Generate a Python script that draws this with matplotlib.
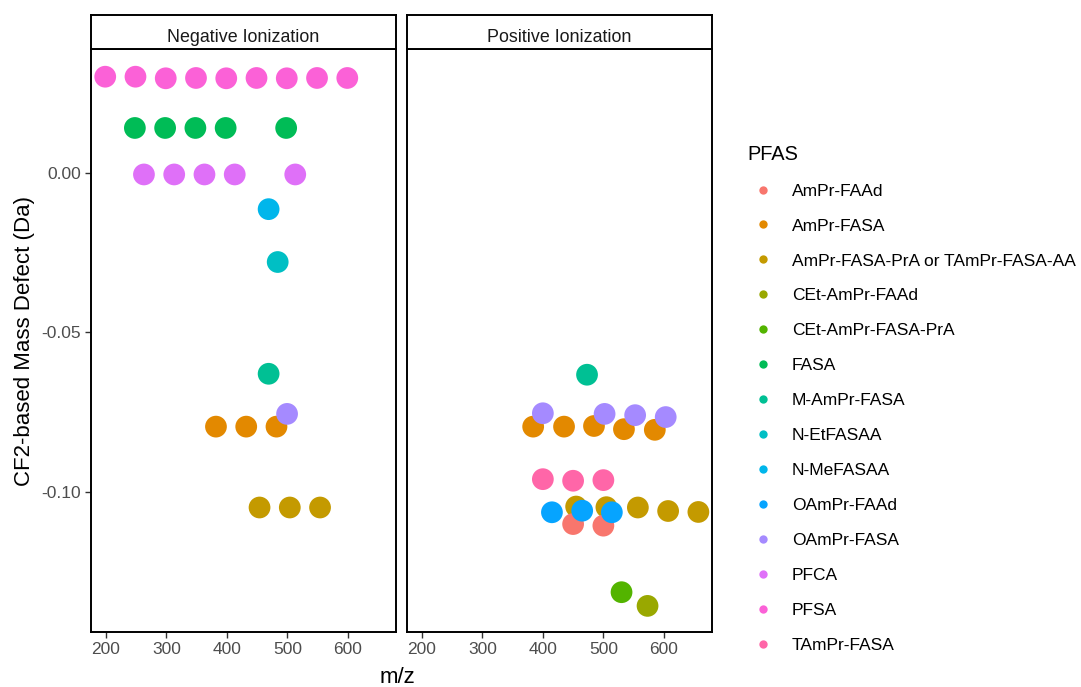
import matplotlib
matplotlib.use('Agg')
import matplotlib.pyplot as plt
from matplotlib.lines import Line2D

plt.rcParams['font.family'] = ['Liberation Sans', 'DejaVu Sans']

# PFAS classes in legend order, ggplot hue colours
classes = ['AmPr-FAAd', 'AmPr-FASA', 'AmPr-FASA-PrA or TAmPr-FASA-AA',
           'CEt-AmPr-FAAd', 'CEt-AmPr-FASA-PrA', 'FASA', 'M-AmPr-FASA',
           'N-EtFASAA', 'N-MeFASAA', 'OAmPr-FAAd', 'OAmPr-FASA', 'PFCA',
           'PFSA', 'TAmPr-FASA']
colors = ['#F8766D', '#E38900', '#C49A00', '#99A800', '#53B400', '#00BC56',
          '#00C094', '#00BFC4', '#00B6EB', '#06A4FF', '#A58AFF', '#DF70F8',
          '#FB61D7', '#FF66A8']

# negative ionization
neg_class = (['PFSA'] * 9 + ['FASA'] * 5 + ['PFCA'] * 5 + ['N-MeFASAA', 'N-EtFASAA', 'M-AmPr-FASA']
             + ['AmPr-FASA'] * 3 + ['OAmPr-FASA'] + ['AmPr-FASA-PrA or TAmPr-FASA-AA'] * 3)
neg_mz = [199, 249, 299, 349, 399, 449, 499, 549, 599,
          248, 298, 348, 398, 498,
          263, 313, 363, 413, 513,
          469, 484, 469,
          382, 432, 482,
          499.5,
          454, 504, 554]
neg_md = [0.0303, 0.0303, 0.0298, 0.0299, 0.0298, 0.0299, 0.0298, 0.0299, 0.0299,
          0.0142, 0.0142, 0.0142, 0.0142, 0.0142,
          -0.0004, -0.0004, -0.0004, -0.0004, -0.0004,
          -0.0113, -0.0279, -0.0630,
          -0.0796, -0.0796, -0.0796,
          -0.0756,
          -0.1050, -0.1050, -0.1050]

# positive ionization
pos_class = (['M-AmPr-FASA'] + ['AmPr-FASA'] * 5 + ['OAmPr-FASA'] * 4 + ['TAmPr-FASA'] * 3
             + ['AmPr-FASA-PrA or TAmPr-FASA-AA'] * 5 + ['AmPr-FAAd'] * 2 + ['OAmPr-FAAd'] * 3
             + ['CEt-AmPr-FASA-PrA', 'CEt-AmPr-FAAd'])
pos_mz = [473,
          384, 435, 484.5, 534, 585,
          400, 502, 552.5, 603,
          400, 450, 500,
          455, 505, 557, 607, 657,
          450, 500,
          415, 465, 514,
          530, 573]
pos_md = [-0.0633,
          -0.0796, -0.0796, -0.0794, -0.0804, -0.0806,
          -0.0754, -0.0756, -0.0760, -0.0766,
          -0.0961, -0.0966, -0.0964,
          -0.1047, -0.1049, -0.1050, -0.1061, -0.1064,
          -0.1102, -0.1107,
          -0.1065, -0.1060, -0.1065,
          -0.1316, -0.1359]

W, H = 1081, 687
fig = plt.figure(figsize=(W / 100, H / 100), dpi=100)


def px(x0, y0, x1, y1):
    # pixel box (top-left origin) -> figure fraction rect
    return [x0 / W, 1 - y1 / H, (x1 - x0) / W, (y1 - y0) / H]


panels = [('Negative Ionization', neg_class, neg_mz, neg_md, 91, 396),
          ('Positive Ionization', pos_class, pos_mz, pos_md, 407, 712)]
cmap = dict(zip(classes, colors))

for i, (title, cl, mz, md, x0, x1) in enumerate(panels):
    ax = fig.add_axes(px(x0, 49, x1, 632))
    ax.scatter(mz, md, c=[cmap[c] for c in cl], s=245, linewidths=0, zorder=3)
    ax.set_xlim(175.5, 679.5)
    ax.set_ylim(-0.1441, 0.0390)
    ax.set_xticks([200, 300, 400, 500, 600])
    ax.set_yticks([0.0, -0.05, -0.10])
    ax.set_yticklabels(['0.00', '-0.05', '-0.10'])
    ax.tick_params(colors='#333333', labelcolor='#4D4D4D', labelsize=12.5,
                   length=4, width=1, pad=3)
    for s in ax.spines.values():
        s.set_linewidth(1.4)
        s.set_color('black')
    if i > 0:
        ax.tick_params(axis='y', left=False, labelleft=False)
    else:
        ax.set_ylabel('CF2-based Mass Defect (Da)', fontsize=16, labelpad=5)
    # facet strip
    sx = fig.add_axes(px(x0, 15, x1, 49))
    sx.set_xticks([])
    sx.set_yticks([])
    for s in sx.spines.values():
        s.set_linewidth(1.4)
    sx.text(0.5, 0.215, title, ha='center', va='baseline', fontsize=12.9,
            color='#1A1A1A', transform=sx.transAxes)

fig.text(397 / W, 1 - 683 / H, 'm/z', ha='center', va='baseline', fontsize=16)

handles = [Line2D([], [], marker='o', linestyle='', markersize=6,
                  markerfacecolor=c, markeredgewidth=0) for c in colors]
leg = fig.legend(handles, classes, loc='upper left',
                 bbox_to_anchor=(739 / W, 1 - 136 / H), frameon=False,
                 title='PFAS', title_fontsize=14.4, fontsize=12.5,
                 alignment='left', borderpad=0, handlelength=1.8,
                 handletextpad=0.75, labelspacing=1.14)

fig.savefig('out.png', dpi=100)
